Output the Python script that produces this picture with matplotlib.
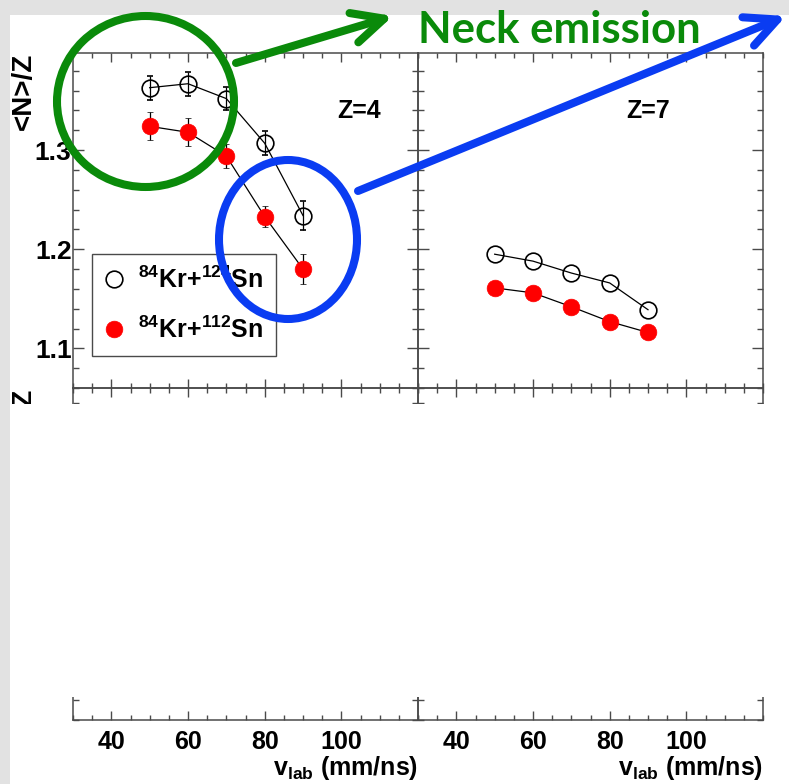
import matplotlib
matplotlib.use('Agg')
import matplotlib.pyplot as plt
from matplotlib.patches import Rectangle, Ellipse, FancyArrowPatch, ArrowStyle
from matplotlib.lines import Line2D
from matplotlib.ticker import MultipleLocator, FixedLocator

# ---------------- data ----------------
v_lab = [50, 60, 70, 80, 90]

z4_kr124 = [1.363, 1.367, 1.352, 1.307, 1.234]
z4_kr124_err = [0.012, 0.012, 0.012, 0.012, 0.015]
z4_kr112 = [1.324, 1.318, 1.294, 1.233, 1.180]
z4_kr112_err = [0.014, 0.014, 0.012, 0.011, 0.015]

z7_kr124 = [1.195, 1.188, 1.176, 1.166, 1.139]
z7_kr112 = [1.161, 1.156, 1.142, 1.127, 1.116]

x_major = [40, 60, 80, 100]
y_major = [1.1, 1.2, 1.3]
legend_labels = [r'$^{84}$Kr+$^{124}$Sn', r'$^{84}$Kr+$^{112}$Sn']
panel_labels = ['Z=4', 'Z=7']
ylabel = '<N>/Z'
xlabel = r'v$_{\rm lab}$ (mm/ns)'
title_text = 'Neck emission'

# ---------------- style ----------------
plt.rcParams['font.family'] = ['Liberation Sans', 'DejaVu Sans']
plt.rcParams['font.weight'] = 'bold'
plt.rcParams['axes.labelweight'] = 'bold'
plt.rcParams['mathtext.fontset'] = 'custom'
plt.rcParams['mathtext.rm'] = 'Liberation Sans:bold'
plt.rcParams['mathtext.it'] = 'Liberation Sans:bold'
plt.rcParams['mathtext.bf'] = 'Liberation Sans:bold'
plt.rcParams['mathtext.default'] = 'rm'

GREEN = '#0a8a0a'
BLUE = '#0a3cf2'
AXC = '#4a4a4a'

W, H = 789, 784
fig = plt.figure(figsize=(W / 100, H / 100), dpi=100, facecolor='#e2e2e2')


def fx(px):
    return px / W


def fy(py):
    return 1 - py / H


# white slide area
fig.add_artist(Rectangle((fx(10), 0), 1 - fx(10), fy(15), transform=fig.transFigure,
                         facecolor='white', edgecolor='none', zorder=-5))


def add_ax(l, r, t, b):
    return fig.add_axes([fx(l), fy(b), fx(r) - fx(l), fy(t) - fy(b)])


ax_tl = add_ax(73, 418, 53, 388)
ax_tr = add_ax(418, 763, 53, 388)
ax_bl = add_ax(73, 418, 388, 720)
ax_br = add_ax(418, 763, 388, 720)

for ax, top in [(ax_tl, True), (ax_tr, True), (ax_bl, False), (ax_br, False)]:
    ax.set_facecolor('none')
    ax.set_xlim(30, 120)
    if top:
        ax.set_ylim(1.06, 1.398)
    else:
        ax.set_ylim(1.06, 1.06 + 332 / 990)
    ax.xaxis.set_major_locator(FixedLocator(x_major))
    ax.xaxis.set_minor_locator(MultipleLocator(5))
    ax.yaxis.set_major_locator(FixedLocator(y_major))
    ax.yaxis.set_minor_locator(MultipleLocator(0.02))
    ax.tick_params(axis='both', which='both', direction='in', top=True, right=True,
                   color=AXC, width=1.0)
    ax.tick_params(axis='x', which='major', length=6.5, pad=7, labelsize=18)
    ax.tick_params(axis='x', which='minor', length=3.6)
    ax.tick_params(axis='y', which='major', length=8, pad=1, labelsize=19)
    ax.tick_params(axis='y', which='minor', length=4.3)
    for s in ax.spines.values():
        s.set_color(AXC)
        s.set_linewidth(1.1)
    if top:
        ax.tick_params(axis='x', labelbottom=False)
    else:
        ax.set_xlabel(xlabel, loc='right', fontsize=18, fontweight='bold', labelpad=0)
    if ax in (ax_tr, ax_br):
        ax.tick_params(axis='y', labelleft=False)
    else:
        ax.set_ylabel(ylabel, loc='top', fontsize=20, fontweight='bold')
        ax.yaxis.set_label_coords((37 - 73) / 345, 1.0)

eb_open = dict(fmt='o-', color='black', mfc='none', mec='black', ms=12, mew=1.2,
               lw=0.9, elinewidth=0.9, capsize=2.5, capthick=0.9, zorder=3)
eb_fill = dict(fmt='o-', color='black', mfc='red', mec='red', ms=12, mew=0.5,
               lw=0.9, elinewidth=0.9, capsize=2.5, capthick=0.9, zorder=3)

ax_tl.errorbar(v_lab, z4_kr124, yerr=z4_kr124_err, **eb_open)
ax_tl.errorbar(v_lab, z4_kr112, yerr=z4_kr112_err, **eb_fill)
ax_tr.plot(v_lab, z7_kr124, 'o-', color='black', mfc='none', mec='black', ms=12, mew=1.2,
           lw=0.9, zorder=3)
ax_tr.plot(v_lab, z7_kr112, 'o-', color='black', mfc='red', mec='red', ms=12, mew=0.5,
           lw=0.9, zorder=3)

ax_tl.text((359 - 73) / 345, 1 - (111 - 53) / 335, panel_labels[0], transform=ax_tl.transAxes,
           ha='center', va='center', fontsize=18, fontweight='bold')
ax_tr.text((648 - 418) / 345, 1 - (111 - 53) / 335, panel_labels[1], transform=ax_tr.transAxes,
           ha='center', va='center', fontsize=18, fontweight='bold')

handles = [Line2D([], [], ls='none', marker='o', ms=12, mfc='none', mec='black', mew=1.2),
           Line2D([], [], ls='none', marker='o', ms=12, mfc='red', mec='red', mew=0.5)]
leg = ax_tl.legend(handles, legend_labels, loc='upper left',
                   bbox_to_anchor=(fx(92), fy(254)), bbox_transform=fig.transFigure,
                   borderaxespad=0, frameon=True, fancybox=False, framealpha=1,
                   edgecolor=AXC, prop={'size': 18, 'weight': 'bold'},
                   handlelength=0.75, handletextpad=0.6,
                   borderpad=0.5, labelspacing=0.95)
leg.get_frame().set_linewidth(1.0)

# white cover hiding the lower panels' content
fig.add_artist(Rectangle((fx(10), fy(697)), 1 - fx(10), fy(404) - fy(697),
                         transform=fig.transFigure, facecolor='white', edgecolor='none', zorder=5))

# annotations
fig.add_artist(Ellipse((fx(145.5), fy(101.5)), 177 / W, 171 / H, transform=fig.transFigure,
                       fill=False, edgecolor=GREEN, lw=5.8, zorder=10))
fig.add_artist(Ellipse((fx(288), fy(239.5)), 138 / W, 159 / H, transform=fig.transFigure,
                       fill=False, edgecolor=BLUE, lw=5.8, zorder=10))

astyle = ArrowStyle('->', head_length=2.27, head_width=1.1)
for (x0, y0), (x1, y1), c in [((236, 63), (393, 16), GREEN), ((358, 191), (786, 16), BLUE)]:
    fig.add_artist(FancyArrowPatch((fx(x0), fy(y0)), (fx(x1), fy(y1)), transform=fig.transFigure,
                                   arrowstyle=astyle, mutation_scale=10, lw=5.8, color=c,
                                   capstyle='round', joinstyle='round',
                                   shrinkA=0, shrinkB=0, zorder=11))

fig.text(fx(418), fy(43), title_text, fontfamily='Lato', fontweight='bold', fontsize=31.5,
         color=GREEN, ha='left', va='baseline', zorder=10)

fig.savefig('out.png', dpi=100, facecolor=fig.get_facecolor())
